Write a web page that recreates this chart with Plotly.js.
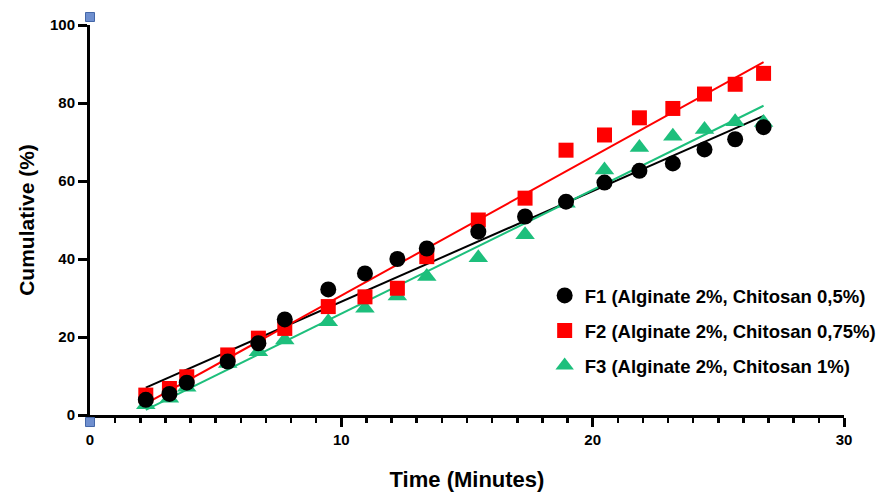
<!DOCTYPE html>
<html>
<head>
<meta charset="utf-8">
<script src="https://cdn.plot.ly/plotly-3.0.1.min.js"></script>
<style>
html,body{margin:0;padding:0;background:#fff;}
#chart{width:893px;height:492px;}
</style>
</head>
<body>
<div id="chart"></div>
<script>
// Time points (minutes)
var timeMin = [2.22, 3.16, 3.85, 5.48, 6.70, 7.75, 9.48, 10.94, 12.23, 13.40, 15.45, 17.31, 18.94, 20.47, 21.86, 23.19, 24.45, 25.67, 26.80];
// Cumulative release (%)
var f1 = [3.9, 5.4, 8.3, 13.7, 18.4, 24.5, 32.2, 36.3, 40.0, 42.7, 47.0, 50.9, 54.7, 59.6, 62.6, 64.5, 68.1, 70.7, 73.8];
var f2 = [5.1, 6.8, 9.8, 15.4, 19.7, 22.2, 27.8, 30.3, 32.5, 40.6, 50.0, 55.6, 67.9, 71.8, 76.2, 78.6, 82.3, 84.8, 87.6];
var f3 = [2.6, 4.3, 7.1, 13.2, 16.2, 19.2, 23.9, 27.4, 30.5, 35.5, 40.3, 46.2, 54.3, 62.8, 68.6, 71.5, 73.2, 75.2, 75.0];
// Linear fit lines (read endpoints)
var fitX = [2.22, 26.80];
var fitF1 = [7.0, 76.7];
var fitF2 = [2.9, 90.5];
var fitF3 = [1.3, 79.3];
var seriesNames = ["F1 (Alginate 2%, Chitosan 0,5%)", "F2 (Alginate 2%, Chitosan 0,75%)", "F3 (Alginate 2%, Chitosan 1%)"];

var cBlack = "#000000", cRed = "#ff0000", cGreen = "#1dbf7c";

var traces = [
  {x: fitX, y: fitF1, mode: "lines", line: {color: cBlack, width: 2}, showlegend: false, hoverinfo: "skip"},
  {x: fitX, y: fitF3, mode: "lines", line: {color: cGreen, width: 2}, showlegend: false, hoverinfo: "skip"},
  {x: fitX, y: fitF2, mode: "lines", line: {color: cRed, width: 2}, showlegend: false, hoverinfo: "skip"},
  {x: timeMin, y: f3, mode: "markers", name: seriesNames[2], legendgroup: "c", marker: {symbol: "triangle-up", size: 17, color: cGreen}, legendrank: 3},
  {x: timeMin, y: f2, mode: "markers", name: seriesNames[1], legendgroup: "b", marker: {symbol: "square", size: 15, color: cRed}, legendrank: 2},
  {x: timeMin, y: f1, mode: "markers", name: seriesNames[0], legendgroup: "a", marker: {symbol: "circle", size: 16, color: cBlack}, legendrank: 1}
];

var narrow = "Liberation Sans Narrow, Arial Narrow, Liberation Sans, Arial, sans-serif";
var sans = "Liberation Sans, Arial, sans-serif";

// small blue handle squares at both ends of the y axis
var handle = function (yPaper) {
  return {type: "rect", xref: "paper", yref: "paper", xsizemode: "pixel", ysizemode: "pixel",
    xanchor: 0, yanchor: yPaper, x0: -4.5, x1: 4.5, y0: -4.5, y1: 4.5,
    fillcolor: "#6f8fcf", line: {color: "#4467a8", width: 1}, layer: "above"};
};

var layout = {
  width: 893, height: 492,
  margin: {l: 90, r: 49, t: 25, b: 77, pad: 0},
  paper_bgcolor: "#ffffff", plot_bgcolor: "#ffffff",
  showlegend: true,
  legend: {
    x: 0.603, y: 0.354, xanchor: "left", yanchor: "top",
    font: {family: sans, size: 18.5, color: "#000", weight: 700},
    bgcolor: "rgba(0,0,0,0)", itemsizing: "trace", tracegroupgap: 8
  },
  shapes: [handle(1.0205), handle(-0.018)],
  xaxis: {
    range: [0, 30], tickvals: [0, 10, 20, 30], ticktext: ["0", "10", "20", "30"],
    showline: true, linecolor: "#000", linewidth: 3, mirror: false,
    ticks: "outside", ticklen: 9, tickwidth: 3, tickcolor: "#000",
    minor: {dtick: 1, ticks: "outside", ticklen: 5, tickwidth: 2.5, tickcolor: "#000", showgrid: false},
    showgrid: false, zeroline: false,
    tickfont: {family: narrow, size: 15, color: "#000", weight: 700},
    title: {text: "Time (Minutes)", font: {family: narrow, size: 22, color: "#000", weight: 700}, standoff: 26}
  },
  yaxis: {
    range: [0, 100], tickvals: [0, 20, 40, 60, 80, 100],
    showline: true, linecolor: "#000", linewidth: 3,
    ticks: "outside", ticklen: 9, tickwidth: 3, tickcolor: "#000",
    showgrid: false, zeroline: false,
    tickfont: {family: sans, size: 15, color: "#000", weight: 700},
    title: {text: "Cumulative (%)", font: {family: sans, size: 21, color: "#000", weight: 700}, standoff: 10}
  }
};

Plotly.newPlot("chart", traces, layout, {displayModeBar: false, staticPlot: true});
</script>
</body>
</html>
